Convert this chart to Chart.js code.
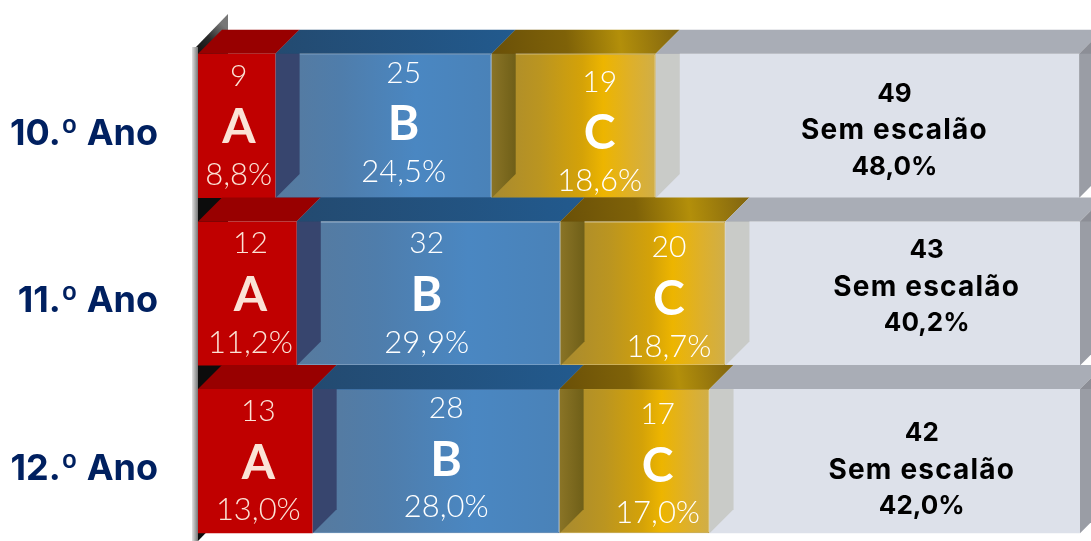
<!DOCTYPE html>
<html lang="pt">
<head>
<meta charset="utf-8">
<title>Escalões por ano</title>
<script src="https://cdn.jsdelivr.net/npm/chart.js@4"></script>
<style>
  html, body { margin: 0; padding: 0; background: #fff; overflow: hidden; }
  #caixa { position: absolute; left: 0; top: 0; width: 1091px; height: 560px; }
</style>
</head>
<body>
<div id="caixa"><canvas id="grafico"></canvas></div>
<script>
const anos = ["10.º Ano", "11.º Ano", "12.º Ano"];
const escaloes = ["A", "B", "C", "Sem escalão"];

const percentA = [8.8, 11.2, 13.0];
const percentB = [24.5, 29.9, 28.0];
const percentC = [18.6, 18.7, 17.0];
const percentSem = [48.0, 40.2, 42.0];

const alunosA = [9, 12, 13];
const alunosB = [25, 32, 28];
const alunosC = [19, 20, 17];
const alunosSem = [49, 43, 42];

const percentagens = [percentA, percentB, percentC, percentSem];
const alunos = [alunosA, alunosB, alunosC, alunosSem];

const FONTE = "Lato, 'Open Sans', sans-serif";
const FONTE_BOLD = "Inter, 'Open Sans', sans-serif";
const FUNDO = 24; // profundidade do efeito 3D

// acertos dos textos em relacao ao centro de cada barra [linha][escalao]
const acertoX = [[2, 20, 26, 27], [3, -2, 26, 24], [3, 10, 23, 27]];
const acertoY = [[0, -3, 6, -32], [0, 0, 4, -43], [0, -3, 3, -28]];
const bordas = ["#c00000", "#3f70a3", "#b8952a", "#dde1ea"];
const larguraBorda = [0, 1, 1, 0];

function gradienteFrente(ctx) {
  const chart = ctx.chart;
  const d = ctx.datasetIndex;
  if (ctx.type !== "data" || !chart.chartArea) return "#c00000";
  if (d === 0) return "#c00000";
  if (d === 3) return "#dde1ea";

  let inicio = 0;
  for (let i = 0; i < d; i++) inicio += percentagens[i][ctx.dataIndex];
  const x0 = chart.scales.x.getPixelForValue(inicio);
  const x1 = chart.scales.x.getPixelForValue(inicio + percentagens[d][ctx.dataIndex]);
  const g = chart.ctx.createLinearGradient(x0, 0, x1, 0);
  if (d === 1) {
    g.addColorStop(0, "#577a9e");
    g.addColorStop(0.3, "#4f7dab");
    g.addColorStop(0.65, "#4a87c2");
    g.addColorStop(1, "#4a82b8");
  } else {
    g.addColorStop(0, "#a88a30");
    g.addColorStop(0.3, "#bb9520");
    g.addColorStop(0.55, "#d4a208");
    g.addColorStop(0.68, "#edb500");
    g.addColorStop(0.85, "#deb02a");
    g.addColorStop(1, "#d0ae48");
  }
  return g;
}

function poligono(c, pontos, cor) {
  c.beginPath();
  pontos.forEach((p, i) => i ? c.lineTo(p[0], p[1]) : c.moveTo(p[0], p[1]));
  c.closePath();
  c.fillStyle = cor;
  c.fill();
}

function corTopo(c, d, x0, x1, y) {
  if (d === 0) return "#980000";
  if (d === 3) return "#a9adb6";
  const g = c.createLinearGradient(x0, y, x1 + FUNDO, y - FUNDO);
  if (d === 1) {
    g.addColorStop(0, "#234a70");
    g.addColorStop(1, "#225a8e");
  } else {
    g.addColorStop(0, "#6a5008");
    g.addColorStop(0.4, "#7f6208");
    g.addColorStop(0.68, "#b38f0a");
    g.addColorStop(1, "#806410");
  }
  return g;
}

function corLado(c, d, x1) {
  if (d === 0) return "#37456e";
  if (d === 2) return "#c9cbc8";
  if (d === 3) return "#9a9da5";
  const g = c.createLinearGradient(x1, 0, x1 + FUNDO, 0);
  g.addColorStop(0, "#8a7426");
  g.addColorStop(1, "#6f5f18");
  return g;
}

const parede = {
  id: "parede",
  beforeDatasetsDraw(chart) {
    const c = chart.ctx;
    const esq = chart.chartArea.left;
    c.save();
    const g = c.createLinearGradient(esq, 60, esq + 30, 30);
    g.addColorStop(0, "#0c0c0c");
    g.addColorStop(0.55, "#2a2a2a");
    g.addColorStop(1, "#777");
    poligono(c, [[esq - 2, 47], [esq + 30, 14], [esq + 30, 510], [esq, 541], [esq - 2, 541]], g);

    const f = c.createLinearGradient(esq - 6, 0, esq, 0);
    f.addColorStop(0, "#e2e2e2");
    f.addColorStop(1, "#777");
    c.fillStyle = f;
    c.fillRect(esq - 6, 47, 6, 494);
    c.restore();
  }
};

const faces = {
  id: "faces",
  afterDatasetsDraw(chart) {
    const c = chart.ctx;
    const metas = escaloes.map((_, d) => chart.getDatasetMeta(d).data);
    c.save();
    anos.forEach((_, l) => {
      escaloes.forEach((_, d) => {
        const b = metas[d][l];
        const x0 = b.base, x1 = b.x;
        const yA = b.y - b.height / 2, yB = b.y + b.height / 2;
        // topo
        poligono(c, [[x0, yA], [x0 + FUNDO, yA - FUNDO], [x1 + FUNDO, yA - FUNDO], [x1, yA]], corTopo(c, d, x0, x1, yA));
        // lado, visto por cima da barra seguinte
        poligono(c, [[x1, yA], [x1 + FUNDO, yA - FUNDO], [x1 + FUNDO, yB - FUNDO], [x1, yB]], corLado(c, d, x1));
        // parte escura do topo seguinte
        poligono(c, [[x1, yA], [x1 + FUNDO, yA - FUNDO], [x1 + FUNDO, yA]], "rgba(0,0,0,0.09)");
      });
    });
    c.restore();
  }
};

function numeroPt(v) {
  return v.toFixed(1).replace(".", ",") + "%";
}

const rotulos = {
  id: "rotulos",
  afterDatasetsDraw(chart) {
    const c = chart.ctx;
    c.save();
    c.textAlign = "center";
    c.textBaseline = "middle";
    anos.forEach((_, l) => {
      escaloes.forEach((nome, d) => {
        const b = chart.getDatasetMeta(d).data[l];
        const x = (b.base + b.x) / 2 + acertoX[l][d];
        const y = b.y + acertoY[l][d];
        if (d === 3) {
          c.fillStyle = "#000";
          c.font = "bold 26px " + FONTE_BOLD;
          c.fillText(alunos[d][l], x, y);
          c.fillText(numeroPt(percentagens[d][l]), x, y + 73);
          c.font = "bold 28px " + FONTE_BOLD;
          c.letterSpacing = "1.2px";
          c.fillText(nome, x, y + 37);
          c.letterSpacing = "0px";
          return;
        }
        const cor = d === 0 ? "#fbe3d6" : "#fff";
        c.fillStyle = cor;
        c.font = "300 30px " + FONTE;
        c.fillText(alunos[d][l], x, y - 50);
        c.font = "300 31px " + FONTE;
        c.fillText(numeroPt(percentagens[d][l]), x, y + 49);
        c.font = "bold 48px " + FONTE;
        c.fillText(nome, x, y + 2);
      });
    });
    c.restore();
  }
};

new Chart(document.getElementById("grafico"), {
  type: "bar",
  data: {
    labels: anos,
    datasets: escaloes.map((nome, d) => ({
      label: nome,
      data: percentagens[d],
      backgroundColor: gradienteFrente,
      borderColor: bordas[d],
      borderWidth: larguraBorda[d]
    }))
  },
  plugins: [parede, faces, rotulos],
  options: {
    indexAxis: "y",
    responsive: true,
    maintainAspectRatio: false,
    animation: false,
    barPercentage: 0.86,
    categoryPercentage: 1,
    layout: { padding: { top: 42, bottom: 15, right: 11, left: 0 } },
    scales: {
      x: { stacked: true, display: false, min: 0, max: 100 },
      y: {
        stacked: true,
        afterFit: scale => {
          scale.width = 198;
          scale.paddingTop = 0;
          scale.paddingBottom = 0;
        },
        border: { display: false },
        grid: { display: false, drawTicks: false },
        ticks: {
          color: "#002060",
          padding: 40,
          labelOffset: 8,
          font: { family: FONTE_BOLD, size: 36, weight: "bold" }
        }
      }
    },
    plugins: {
      legend: { display: false },
      tooltip: { enabled: false }
    }
  }
});
</script>
</body>
</html>
